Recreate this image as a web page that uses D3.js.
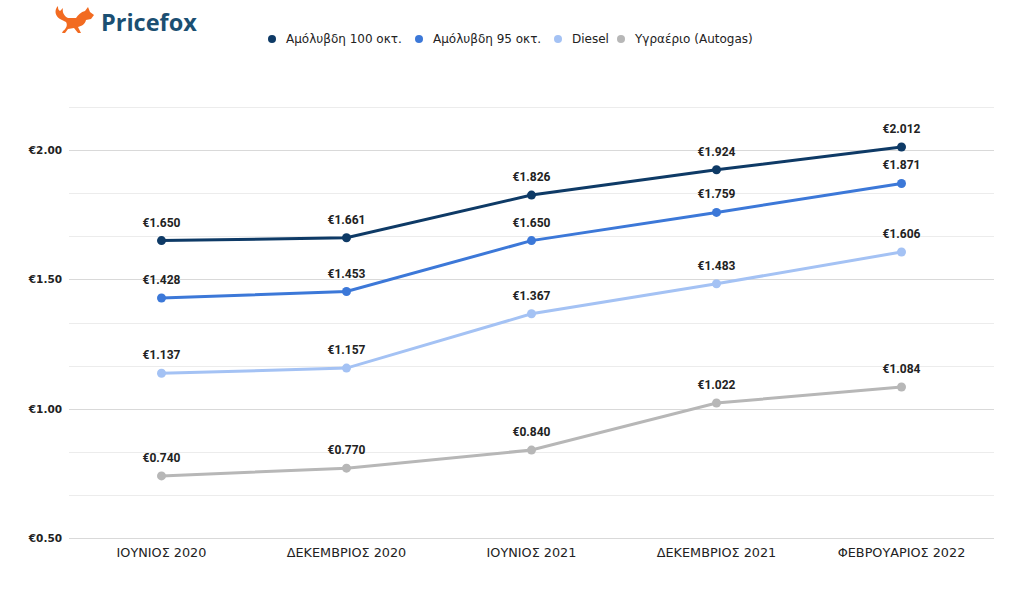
<!DOCTYPE html>
<html>
  <head>
    <meta charset="utf-8">
    <script src="https://cdnjs.cloudflare.com/ajax/libs/d3/7.8.5/d3.min.js"></script>
    <style>
      body { margin: 0; background: #fff; }
    </style>
  </head>
  <body>
    <div id="vis"></div>
    <script type="text/javascript">

        const categories = ["ΙΟΥΝΙΟΣ 2020", "ΔΕΚΕΜΒΡΙΟΣ 2020", "ΙΟΥΝΙΟΣ 2021", "ΔΕΚΕΜΒΡΙΟΣ 2021", "ΦΕΒΡΟΥΑΡΙΟΣ 2022"];
        const seriesNames = ["Αμόλυβδη 100 οκτ.", "Αμόλυβδη 95 οκτ.", "Diesel", "Υγραέριο (Autogas)"];
        const unleaded100 = [1.650, 1.661, 1.826, 1.924, 2.012];
        const unleaded95 = [1.428, 1.453, 1.650, 1.759, 1.871];
        const diesel = [1.137, 1.157, 1.367, 1.483, 1.606];
        const autogas = [0.740, 0.770, 0.840, 1.022, 1.084];
        const yTickLabels = [0.5, 1.0, 1.5, 2.0];
        const colors = ["#0e3a66", "#3c78d8", "#a4c2f4", "#b7b7b7"];

        const allSeries = [unleaded100, unleaded95, diesel, autogas];

        const width = 1024, height = 590;
        const svg = d3.select("#vis")
            .append("svg")
            .attr("width", width)
            .attr("height", height);

        const x = d3.scaleBand().domain(categories).range([69, 994]);
        const y = d3.scaleLinear().domain([0.5, 0.5 + 10 / 6]).range([538, 107]);

        // gridlines every 1/6 of a euro, labels every 0.50
        const gridVals = d3.range(0, 11).map(i => 0.5 + i / 6);
        svg.append("g")
            .selectAll("line")
            .data(gridVals)
            .enter()
            .append("line")
            .attr("x1", 69).attr("x2", 994)
            .attr("y1", d => Math.round(y(d)) + 0.5)
            .attr("y2", d => Math.round(y(d)) + 0.5)
            .attr("stroke", (d, i) => i % 3 === 0 ? "#d9d9d9" : "#ececec")
            .attr("stroke-width", 1);

        svg.append("g")
            .selectAll("text")
            .data(yTickLabels)
            .enter()
            .append("text")
            .attr("x", 62)
            .attr("y", d => y(d) + 4)
            .attr("text-anchor", "end")
            .style("font-family", "'DejaVu Sans', Verdana, sans-serif")
            .style("font-weight", "bold")
            .style("font-size", "10.5px")
            .attr("fill", "#222")
            .text(d => "€" + d.toFixed(2));

        svg.append("g")
            .selectAll("text")
            .data(categories)
            .enter()
            .append("text")
            .attr("x", d => x(d) + x.bandwidth() / 2)
            .attr("y", 557)
            .attr("text-anchor", "middle")
            .style("font-family", "'DejaVu Sans', Verdana, sans-serif")
            .style("font-size", "12.8px")
            .attr("fill", "#222")
            .text(d => d);

        const line = d3.line()
            .x((d, i) => x(categories[i]) + x.bandwidth() / 2)
            .y(d => y(d));

        allSeries.forEach((vals, si) => {
            const g = svg.append("g");
            g.append("path")
                .attr("d", line(vals))
                .attr("fill", "none")
                .attr("stroke", colors[si])
                .attr("stroke-width", 3);
            g.selectAll("circle")
                .data(vals)
                .enter()
                .append("circle")
                .attr("cx", (d, i) => x(categories[i]) + x.bandwidth() / 2)
                .attr("cy", d => y(d))
                .attr("r", 4.5)
                .attr("fill", colors[si]);
            g.selectAll("text")
                .data(vals)
                .enter()
                .append("text")
                .attr("x", (d, i) => x(categories[i]) + x.bandwidth() / 2)
                .attr("y", d => y(d) - 14)
                .attr("text-anchor", "middle")
                .style("font-family", "Roboto, Arial, sans-serif")
                .style("font-weight", "bold")
                .style("font-size", "12px")
                .attr("fill", "#222")
                .text(d => "€" + d.toFixed(3));
        });

        // legend
        const legendX = [272, 419, 558, 621];
        const legend = svg.append("g");
        seriesNames.forEach((name, i) => {
            legend.append("circle")
                .attr("cx", legendX[i])
                .attr("cy", 39)
                .attr("r", 4)
                .attr("fill", colors[i]);
            legend.append("text")
                .attr("x", legendX[i] + 14)
                .attr("y", 43)
                .style("font-family", "'DejaVu Sans', Verdana, sans-serif")
                .style("font-size", "12px")
                .attr("fill", "#222")
                .text(name);
        });

        // logo
        const logo = svg.append("g");
        logo.append("path")
            .attr("d", "M58,6 C54,10 55,16 60,19 L66,22 C68,25 66,29 63,31 L62,33 L65,33 L68,29 L74,28 L78,33 L81,33 L78,27 C82,26 85,24 86,20 L91,19 L94,15 L90,12 L88,7 L85,11 C81,12 78,15 76,18 L68,18 C64,16 62,12 63,8 L60,11 C58,10 58,8 58,6 Z")
            .attr("fill", "#f26b21");
        logo.append("text")
            .attr("x", 101)
            .attr("y", 31)
            .style("font-family", "'Open Sans', 'Noto Sans', sans-serif")
            .style("font-weight", "bold")
            .style("font-size", "23.5px")
            .attr("fill", "#1b4f72")
            .text("Pricefox");

    </script>
  </body>
</html>
